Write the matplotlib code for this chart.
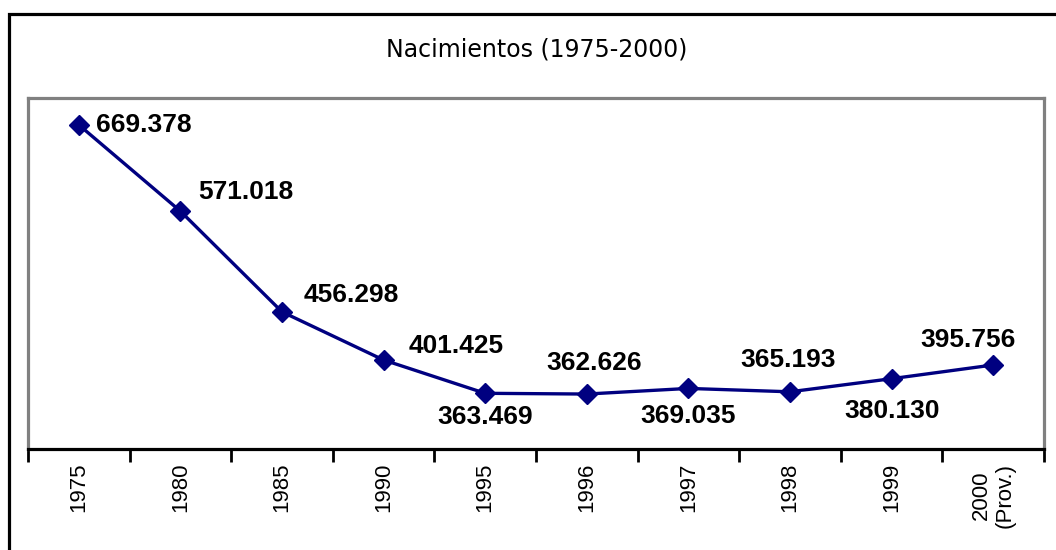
import matplotlib
matplotlib.use("Agg")
import matplotlib.pyplot as plt
from matplotlib.patches import Rectangle

# data
years = ['1975', '1980', '1985', '1990', '1995', '1996', '1997', '1998', '1999', '2000\n(Prov.)']
births = [669.378, 571.018, 456.298, 401.425, 363.469, 362.626, 369.035, 365.193, 380.130, 395.756]
labels = ['669.378', '571.018', '456.298', '401.425', '363.469', '362.626', '369.035', '365.193', '380.130', '395.756']

# label offsets in pixels (dx, dy, ha)
offsets = [(17, 0, 'left'), (65, 19, 'center'), (69, 17, 'center'), (73, 14, 'center'),
           (0, -24, 'center'), (7, 31, 'center'), (0, -28, 'center'), (-2, 32, 'center'),
           (0, -32, 'center'), (-25, 25, 'center')]

navy = '#000080'
grey = '#808080'

fig = plt.figure(figsize=(10.56, 5.5), dpi=100)
W, H = 1056.0, 550.0

# outer frame (only top and left are visible in the picture)
fig.patches.append(Rectangle((9 / W, -0.2), 1.2, 1.2 - 14 / H, transform=fig.transFigure,
                             fill=False, edgecolor='black', linewidth=2.3))

fig.text((349 + 724) / 2 / W, 1 - 50 / H, 'Nacimientos (1975-2000)', ha='center', va='center',
         fontsize=17, family='DejaVu Sans')

ax = fig.add_axes([28 / W, 1 - 449 / H, (1044 - 28) / W, (449 - 98) / H])
x = list(range(len(years)))
ax.plot(x, births, color=navy, linewidth=2.4, marker='D', markersize=10.5, zorder=3, clip_on=False)

for i in x:
    dx, dy, ha = offsets[i]
    ax.annotate(labels[i], (i, births[i]), xytext=(dx, dy), textcoords='offset pixels',
                ha=ha, va='center', fontsize=19, fontweight='bold', family='Liberation Sans')

ax.set_xlim(-0.5, len(years) - 0.5)
ax.set_ylim(300, 700)
ax.set_yticks([])

ax.set_xticks(x)
ax.set_xticklabels(years, rotation=90, fontsize=16, family='Liberation Sans', multialignment='center')
ax.set_xticks([i - 0.5 for i in range(len(years) + 1)], minor=True)
ax.tick_params(axis='x', which='major', length=0, pad=10)
ax.tick_params(axis='x', which='minor', length=9, width=2, direction='out', color='black')

for s in ['left', 'top', 'right']:
    ax.spines[s].set_color(grey)
    ax.spines[s].set_linewidth(2.3)
ax.spines['bottom'].set_color('black')
ax.spines['bottom'].set_linewidth(2.3)

fig.savefig('out.png', dpi=100)
